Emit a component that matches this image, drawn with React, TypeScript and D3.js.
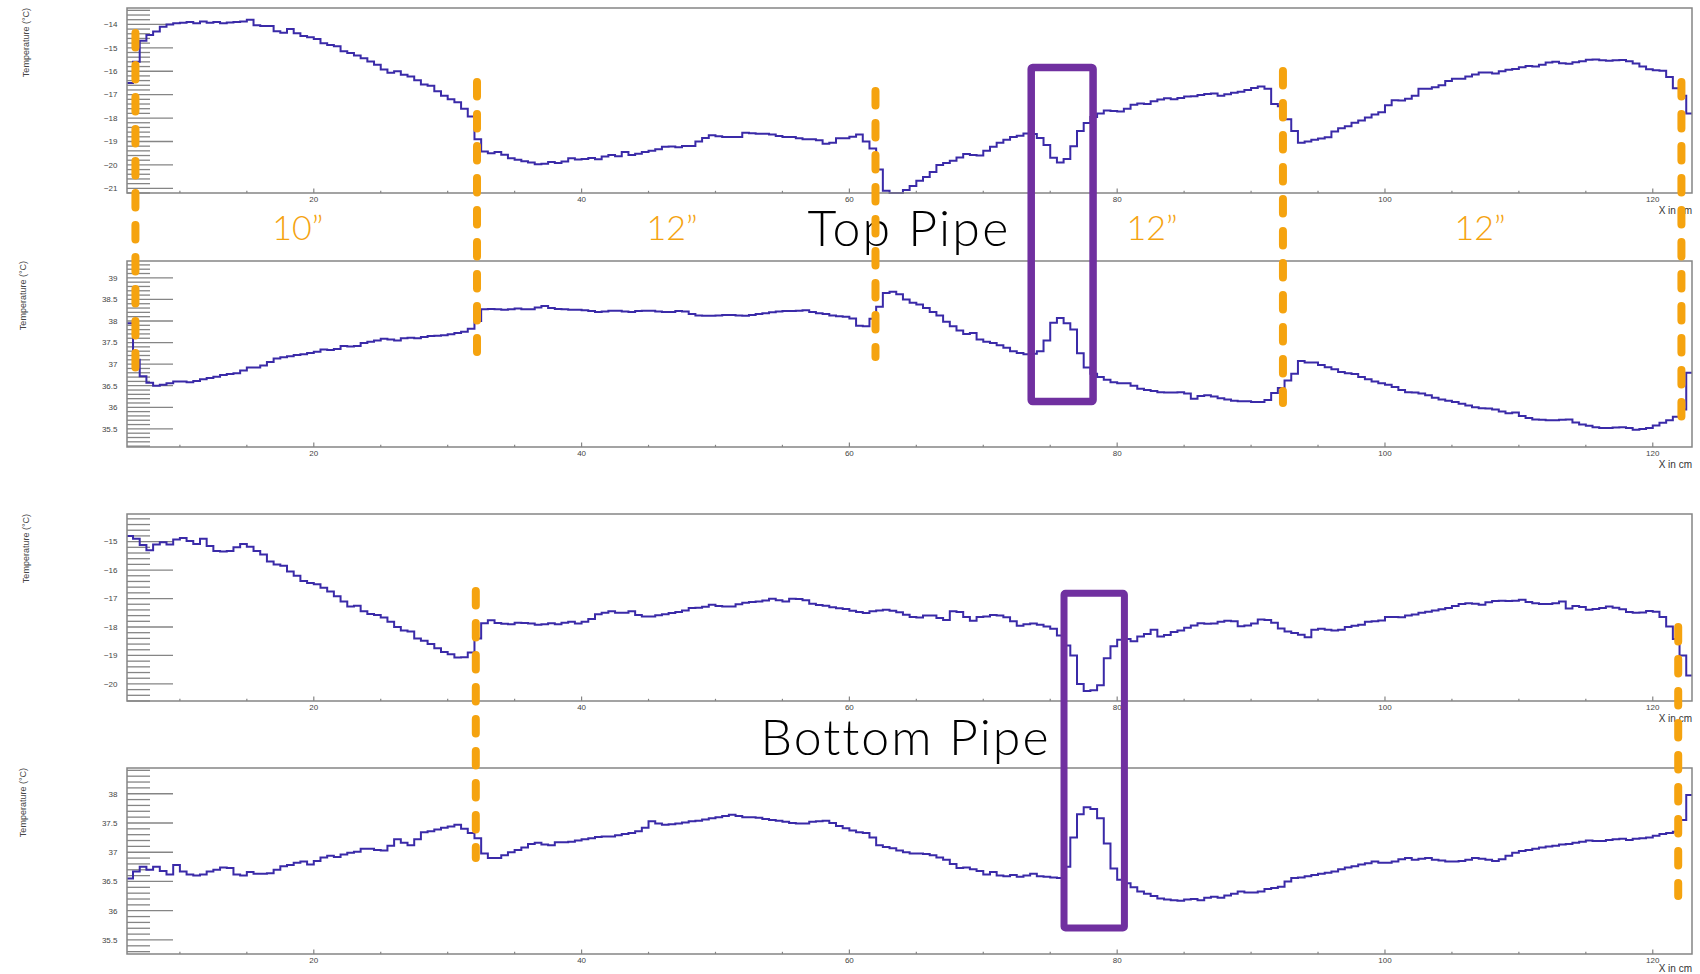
import React from "react";
import * as d3 from "d3";

// one reading per 0.5 cm bin, first bin starts at 6 cm
const binLow = 6;
const binWidth = 0.5;

const topPipeCold = [
  -16.5, -15.6, -14.7, -14.45, -14.3, -14.1, -14.0, -13.95, -13.93, -13.9,
  -13.95, -13.88, -13.93, -13.9, -13.95, -13.92, -13.9, -13.88, -13.8, -14.04,
  -14.07, -14.07, -14.29, -14.36, -14.2, -14.38, -14.5, -14.55, -14.62, -14.8,
  -14.88, -14.93, -15.15, -15.22, -15.33, -15.45, -15.58, -15.72, -15.93, -16.07,
  -16.0, -16.15, -16.23, -16.38, -16.57, -16.62, -16.86, -17.05, -17.2, -17.33,
  -17.6, -17.93, -18.9, -19.43, -19.5, -19.45, -19.57, -19.72, -19.78, -19.84,
  -19.9, -19.97, -19.95, -19.88, -19.92, -19.86, -19.72, -19.77, -19.75, -19.71,
  -19.76, -19.64, -19.58, -19.63, -19.45, -19.58, -19.52, -19.45, -19.4, -19.33,
  -19.22, -19.21, -19.25, -19.19, -19.19, -19.0, -18.85, -18.73, -18.78, -18.81,
  -18.81, -18.81, -18.63, -18.65, -18.67, -18.67, -18.7, -18.77, -18.81, -18.81,
  -18.86, -18.9, -18.9, -18.95, -19.1, -19.05, -18.86, -18.86, -18.8, -18.7,
  -19.0, -19.3, -20.2, -21.1, -21.2, -21.2, -21.07, -20.9, -20.68, -20.52,
  -20.3, -20.0, -19.92, -19.82, -19.68, -19.53, -19.58, -19.6, -19.4, -19.22,
  -19.05, -18.93, -18.81, -18.76, -18.66, -18.68, -18.85, -19.15, -19.7, -19.9,
  -19.75, -19.2, -18.55, -18.21, -17.95, -17.8, -17.68, -17.7, -17.72, -17.6,
  -17.43, -17.38, -17.4, -17.28, -17.21, -17.15, -17.2, -17.14, -17.08, -17.07,
  -17.02, -16.97, -16.95, -17.05, -16.98, -16.92, -16.88, -16.8, -16.72, -16.65,
  -16.75, -17.4, -17.5, -18.05, -18.55, -19.05, -19.0, -18.93, -18.87, -18.82,
  -18.57, -18.43, -18.35, -18.2, -18.1, -17.98, -17.85, -17.75, -17.45, -17.24,
  -17.25, -17.17, -17.05, -16.75, -16.75, -16.68, -16.6, -16.42, -16.32, -16.32,
  -16.22, -16.14, -16.05, -16.05, -16.1, -16.0, -15.94, -15.9, -15.83, -15.78,
  -15.8, -15.72, -15.63, -15.6, -15.66, -15.68, -15.62, -15.57, -15.51, -15.5,
  -15.53, -15.55, -15.53, -15.52, -15.57, -15.67, -15.8, -15.92, -15.96, -15.98,
  -16.25, -16.73, -17.05, -17.8,
];

const topPipeHot = [
  37.95, 37.1, 36.72, 36.57, 36.5, 36.52, 36.56, 36.6, 36.6, 36.58,
  36.61, 36.65, 36.68, 36.71, 36.75, 36.77, 36.79, 36.85, 36.92, 36.92,
  36.97, 37.05, 37.13, 37.16, 37.18, 37.21, 37.23, 37.26, 37.29, 37.34,
  37.33, 37.35, 37.42, 37.41, 37.42, 37.49, 37.52, 37.55, 37.59, 37.57,
  37.55, 37.6, 37.61, 37.6, 37.63, 37.65, 37.66, 37.67, 37.69, 37.72,
  37.75, 37.82, 38.0, 38.27, 38.28, 38.27, 38.26, 38.27, 38.29, 38.27,
  38.27, 38.31, 38.35, 38.3, 38.28, 38.27, 38.26, 38.26, 38.25, 38.23,
  38.21, 38.22, 38.24, 38.24, 38.22, 38.21, 38.23, 38.24, 38.24, 38.22,
  38.21, 38.21, 38.23, 38.22, 38.16, 38.13, 38.12, 38.12, 38.13, 38.14,
  38.14, 38.13, 38.12, 38.14, 38.16, 38.18, 38.2, 38.22, 38.23, 38.23,
  38.24, 38.25, 38.21, 38.18, 38.16, 38.13, 38.11, 38.1, 38.06, 37.89,
  37.88, 38.05, 38.33, 38.65, 38.68, 38.62, 38.5, 38.42, 38.38, 38.3,
  38.21, 38.13, 37.98, 37.88, 37.78, 37.7, 37.72, 37.57, 37.52, 37.49,
  37.44, 37.38, 37.3, 37.26, 37.23, 37.24, 37.3, 37.55, 37.96, 38.07,
  37.95, 37.8, 37.25, 36.92, 36.78, 36.7, 36.64, 36.58, 36.56, 36.56,
  36.5, 36.43, 36.4, 36.38, 36.35, 36.34, 36.34, 36.35, 36.32, 36.2,
  36.26, 36.28, 36.25, 36.21, 36.18, 36.15, 36.14, 36.14, 36.12, 36.12,
  36.17, 36.33, 36.45, 36.62, 36.78, 37.07, 37.04, 37.04, 36.98, 36.93,
  36.88, 36.82, 36.79, 36.77, 36.7, 36.65, 36.6, 36.56, 36.52, 36.47,
  36.4, 36.35, 36.34, 36.32, 36.28, 36.22, 36.18, 36.15, 36.12, 36.08,
  36.04, 36.0, 35.98, 35.97, 35.95, 35.9, 35.86, 35.88, 35.8, 35.75,
  35.72, 35.71, 35.7, 35.7, 35.71, 35.72, 35.65, 35.6, 35.57, 35.54,
  35.52, 35.52, 35.53, 35.54, 35.52, 35.48, 35.5, 35.52, 35.58, 35.64,
  35.7, 35.78, 35.95, 36.8,
];

const bottomPipeCold = [
  -14.8, -14.9, -15.12, -15.3, -15.1, -15.02, -15.1, -14.93, -14.87, -14.98,
  -15.08, -14.9, -15.15, -15.33, -15.35, -15.33, -15.2, -15.08, -15.18, -15.33,
  -15.45, -15.7, -15.8, -15.85, -16.05, -16.2, -16.38, -16.45, -16.5, -16.62,
  -16.75, -16.92, -17.1, -17.28, -17.25, -17.45, -17.54, -17.58, -17.67, -17.82,
  -18.0, -18.12, -18.16, -18.4, -18.48, -18.6, -18.75, -18.88, -18.96, -19.07,
  -19.06, -18.9, -18.4, -17.87, -17.76, -17.86, -17.89, -17.9, -17.85, -17.86,
  -17.88, -17.92, -17.9, -17.87, -17.9, -17.85, -17.82, -17.88, -17.82, -17.72,
  -17.55, -17.5, -17.45, -17.5, -17.5, -17.45, -17.58, -17.63, -17.63, -17.59,
  -17.55, -17.51, -17.47, -17.42, -17.33, -17.32, -17.29, -17.22, -17.26, -17.28,
  -17.28, -17.2, -17.15, -17.12, -17.1, -17.07, -17.01, -17.06, -17.1, -17.01,
  -17.02, -17.06, -17.18, -17.23, -17.25, -17.31, -17.34, -17.37, -17.43, -17.47,
  -17.51, -17.45, -17.42, -17.39, -17.43, -17.48, -17.57, -17.65, -17.67, -17.6,
  -17.6, -17.68, -17.75, -17.45, -17.47, -17.65, -17.78, -17.65, -17.63, -17.58,
  -17.6, -17.66, -17.8, -17.96, -17.9, -17.88, -17.92, -17.98, -18.06, -18.3,
  -18.65, -19.0, -20.0, -20.25, -20.22, -20.05, -19.1, -18.68, -18.45, -18.42,
  -18.5, -18.33, -18.25, -18.1, -18.33, -18.28, -18.18, -18.12, -18.03, -17.95,
  -17.87, -17.89, -17.88, -17.82, -17.78, -17.8, -17.97, -17.95, -17.88, -17.74,
  -17.75, -17.85, -18.05, -18.16, -18.21, -18.27, -18.36, -18.1, -18.06, -18.1,
  -18.12, -18.1, -18.0, -17.96, -17.92, -17.82, -17.8, -17.77, -17.65, -17.65,
  -17.66, -17.6, -17.56, -17.5, -17.46, -17.42, -17.38, -17.33, -17.26, -17.19,
  -17.17, -17.18, -17.22, -17.13, -17.09, -17.08, -17.09, -17.08, -17.04, -17.12,
  -17.17, -17.19, -17.19, -17.17, -17.1, -17.35, -17.26, -17.3, -17.39, -17.37,
  -17.33, -17.28, -17.32, -17.38, -17.47, -17.5, -17.49, -17.44, -17.46, -17.65,
  -17.98, -18.42, -19.0, -19.7,
];

const bottomPipeHot = [
  36.55, 36.67, 36.75, 36.7, 36.75, 36.68, 36.62, 36.78, 36.67, 36.62,
  36.6, 36.62, 36.67, 36.7, 36.74, 36.73, 36.62, 36.6, 36.66, 36.63,
  36.63, 36.64, 36.7, 36.76, 36.78, 36.82, 36.84, 36.79, 36.85, 36.91,
  36.94, 36.92, 36.96, 36.99, 37.01, 37.06, 37.06, 37.04, 37.03, 37.11,
  37.22, 37.16, 37.12, 37.22, 37.34, 37.36, 37.39, 37.42, 37.44, 37.47,
  37.4, 37.33, 37.24, 36.98, 36.9, 36.9, 36.95, 37.0, 37.04, 37.08,
  37.14, 37.16, 37.13, 37.12, 37.17, 37.17, 37.18, 37.2, 37.22, 37.24,
  37.26, 37.27, 37.27, 37.29, 37.31, 37.33, 37.36, 37.42, 37.53, 37.49,
  37.47, 37.48, 37.49, 37.51, 37.53, 37.54, 37.56, 37.58, 37.6, 37.62,
  37.64, 37.62, 37.6, 37.6, 37.59, 37.57, 37.55, 37.54, 37.52, 37.5,
  37.49, 37.49, 37.52, 37.53, 37.54, 37.5, 37.45, 37.41, 37.37, 37.34,
  37.33, 37.25, 37.12, 37.09, 37.07, 37.03, 37.0, 36.98, 36.98, 36.97,
  36.95, 36.91, 36.87, 36.8, 36.73, 36.74, 36.71, 36.68, 36.62, 36.66,
  36.6, 36.59, 36.61, 36.58, 36.6, 36.63, 36.59, 36.58, 36.57, 36.56,
  36.75, 37.25, 37.65, 37.77, 37.74, 37.58, 37.15, 36.72, 36.53, 36.47,
  36.4, 36.33, 36.29, 36.25, 36.21, 36.19, 36.18, 36.17, 36.19, 36.2,
  36.18, 36.22, 36.24, 36.22, 36.26, 36.29, 36.33, 36.31, 36.31, 36.33,
  36.37, 36.39, 36.41, 36.5, 36.56, 36.57, 36.59, 36.61, 36.63, 36.65,
  36.67, 36.71, 36.74, 36.76, 36.79, 36.81, 36.84, 36.82, 36.82, 36.84,
  36.88, 36.9, 36.87, 36.89, 36.9, 36.87, 36.86, 36.84, 36.84, 36.85,
  36.87, 36.9, 36.89, 36.87, 36.85, 36.88, 36.94, 36.99, 37.02, 37.04,
  37.06, 37.08, 37.1, 37.11, 37.13, 37.14, 37.16, 37.18, 37.2, 37.19,
  37.19, 37.21, 37.22, 37.23, 37.21, 37.23, 37.24, 37.25, 37.28, 37.31,
  37.33, 37.35, 37.55, 37.98,
];

const xMajorTicks = [20, 40, 60, 80, 100, 120];
const sectionLabels = ["10\u201D", "12\u201D", "12\u201D", "12\u201D"];
const sectionCenters = [18.8, 46.75, 82.6, 107.1];
const upperCuts = [6.68, 32.19, 61.95, 92.38, 122.14];
const lowerCuts = [32.1, 121.9];
const topPipeBox = [73.58, 78.2];
const bottomPipeBox = [76.03, 80.54];

const W = 1700;
const H = 974;
const frameL = 127;
const frameR = 1692;
const lineColor = "#3a2aa8";
const axisColor = "#858585";
const orange = "#f5a30f";
const purple = "#7030a0";
const rootFont = "'Liberation Sans', Arial, sans-serif";
const slideFont = "Lato, 'DejaVu Sans', sans-serif";

const x = d3.scaleLinear().domain([6.05, 122.93]).range([frameL, frameR]);

const panels = [
  { id: "p1", data: topPipeCold, lo: -21.2, hi: -13.3, step: 1, top: 8, bottom: 193, titleX: 28.5 },
  { id: "p2", data: topPipeHot, lo: 35.08, hi: 39.39, step: 0.5, top: 261, bottom: 447, titleX: 26 },
  { id: "p3", data: bottomPipeCold, lo: -20.6, hi: -14.03, step: 1, top: 514, bottom: 701, titleX: 28.5 },
  { id: "p4", data: bottomPipeHot, lo: 35.26, hi: 38.44, step: 0.5, top: 768, bottom: 954, titleX: 26 },
];

function fmt(v: number) {
  const s = String(+v.toFixed(1));
  return s.replace("-", "\u2212");
}

function Panel({ p }: { p: any }) {
  const y = d3.scaleLinear().domain([p.lo, p.hi]).range([p.bottom, p.top]);
  const pts: [number, number][] = p.data.map((v: number, i: number) => [binLow + i * binWidth, v]);
  pts.push([binLow + p.data.length * binWidth, p.data[p.data.length - 1]]);
  const line = d3
    .line<[number, number]>()
    .x((d) => x(d[0]))
    .y((d) => y(d[1]))
    .curve(d3.curveStepAfter);

  const majors = d3.range(Math.ceil(p.lo / p.step - 1e-9) * p.step, p.hi + 1e-9, p.step);
  const mstep = p.step / 5;
  const minors = d3
    .range(Math.ceil(p.lo / mstep - 1e-9), Math.floor(p.hi / mstep + 1e-9) + 1)
    .map((k) => k * mstep)
    .filter((v) => !majors.some((m) => Math.abs(m - v) < 1e-6));
  const xMinor = d3.range(10, 123, 5).filter((v) => !xMajorTicks.includes(v));

  return (
    <g>
      <defs>
        <clipPath id={"clip-" + p.id}>
          <rect x={frameL} y={p.top} width={frameR - frameL} height={p.bottom - p.top + 1} />
        </clipPath>
      </defs>
      {minors.map((v) => (
        <line key={"mn" + v} x1={frameL} x2={frameL + 23} y1={y(v)} y2={y(v)} stroke={axisColor} strokeWidth={1.3} />
      ))}
      {majors.map((v) => (
        <line key={"mj" + v} x1={frameL} x2={frameL + 46} y1={y(v)} y2={y(v)} stroke={axisColor} strokeWidth={1.3} />
      ))}
      {majors.map((v) => (
        <text key={"ml" + v} x={117.5} y={y(v) + 2.8} textAnchor="end" fontSize={8} fill="#444" fontFamily={rootFont}>
          {fmt(v)}
        </text>
      ))}
      <text
        transform={`translate(${p.titleX},${p.top}) rotate(-90)`}
        textAnchor="end"
        fontSize={9}
        fill="#444"
        fontFamily={rootFont}
      >
        Temperature (°C)
      </text>
      {xMinor.map((v) => (
        <line key={"xm" + v} x1={x(v)} x2={x(v)} y1={p.bottom} y2={p.bottom - 2.2} stroke={axisColor} strokeWidth={1.2} />
      ))}
      {xMajorTicks.map((v) => (
        <g key={"xM" + v}>
          <line x1={x(v)} x2={x(v)} y1={p.bottom} y2={p.bottom - 4.5} stroke={axisColor} strokeWidth={1.2} />
          <text x={x(v)} y={p.bottom + 9} textAnchor="middle" fontSize={8} fill="#444" fontFamily={rootFont}>
            {v}
          </text>
        </g>
      ))}
      <text
        x={frameR}
        y={Math.min(p.bottom + 20.5, H - 2.5)}
        textAnchor="end"
        fontSize={10}
        fill="#333"
        fontFamily={rootFont}
      >
        X in cm
      </text>
      <path d={line(pts) || ""} fill="none" stroke={lineColor} strokeWidth={2} clipPath={`url(#clip-${p.id})`} />
      <rect x={frameL} y={p.top} width={frameR - frameL} height={p.bottom - p.top} fill="none" stroke={axisColor} strokeWidth={1.5} />
    </g>
  );
}

function Cut({ at, y0, y1 }: { at: number; y0: number; y1: number }) {
  return (
    <line
      x1={x(at)}
      x2={x(at)}
      y1={y0 + 4}
      y2={y1 - 4}
      stroke={orange}
      strokeWidth={8}
      strokeLinecap="round"
      strokeDasharray="14.5 17.5"
    />
  );
}

export default function App() {
  const upperSpans = [
    [29, 387],
    [78, 356],
    [87, 361],
    [67, 407],
    [78, 423],
  ];
  const lowerSpans = [
    [587, 862],
    [623, 900],
  ];
  return (
    <svg
      width={W}
      height={H}
      viewBox={`0 0 ${W} ${H}`}
      style={{ position: "absolute", left: 0, top: 0, display: "block", background: "#fff" }}
    >
      <rect x={0} y={0} width={W} height={H} fill="#fff" />
      {panels.map((p) => (
        <Panel key={p.id} p={p} />
      ))}

      {sectionLabels.map((s, i) => (
        <text
          key={"sec" + i}
          x={x(sectionCenters[i])}
          y={240}
          textAnchor="middle"
          fontSize={34}
          fontWeight={300}
          fill={orange}
          fontFamily={slideFont}
        >
          {s}
        </text>
      ))}
      <text
        x={909}
        y={245.5}
        textAnchor="middle"
        fontSize={50}
        fontWeight={300}
        letterSpacing={2.2}
        fill="#000"
        fontFamily={slideFont}
      >
        Top Pipe
      </text>
      <text
        x={905.5}
        y={755}
        textAnchor="middle"
        fontSize={50}
        fontWeight={300}
        letterSpacing={2}
        fill="#000"
        fontFamily={slideFont}
      >
        Bottom Pipe
      </text>

      {upperCuts.map((c, i) => (
        <Cut key={"uc" + i} at={c} y0={upperSpans[i][0]} y1={upperSpans[i][1]} />
      ))}
      {lowerCuts.map((c, i) => (
        <Cut key={"lc" + i} at={c} y0={lowerSpans[i][0]} y1={lowerSpans[i][1]} />
      ))}

      <rect
        x={x(topPipeBox[0])}
        y={67.5}
        width={x(topPipeBox[1]) - x(topPipeBox[0])}
        height={401.5 - 67.5}
        fill="none"
        stroke={purple}
        strokeWidth={7.5}
        rx={1.5}
      />
      <rect
        x={x(bottomPipeBox[0])}
        y={593.3}
        width={x(bottomPipeBox[1]) - x(bottomPipeBox[0])}
        height={928 - 593.3}
        fill="none"
        stroke={purple}
        strokeWidth={7}
        rx={1.5}
      />
    </svg>
  );
}
